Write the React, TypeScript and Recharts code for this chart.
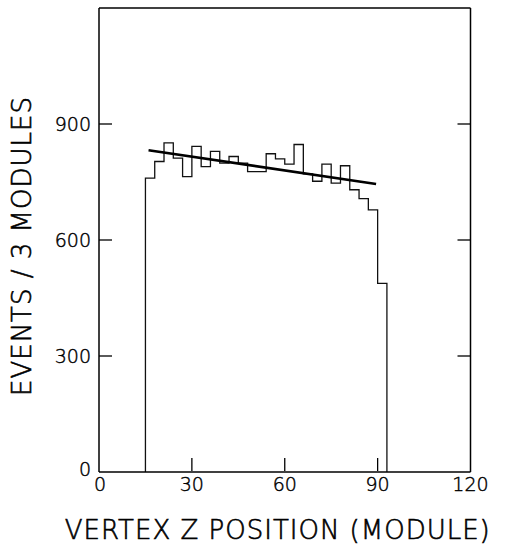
import React from 'react';
import { ComposedChart, Line, XAxis, YAxis, Label, ReferenceLine } from 'recharts';

const binEdges = [15, 18, 21, 24, 27, 30, 33, 36, 39, 42, 45, 48, 51, 54, 57, 60, 63, 66, 69, 72, 75, 78, 81, 84, 87, 90];
const binCounts = [760, 803, 851, 812, 764, 842, 790, 829, 799, 816, 799, 777, 777, 823, 810, 796, 847, 771, 752, 796, 747, 792, 730, 707, 678, 488];
const histEnd = 93;
const fitX = [16, 89.5];
const fitY = [832, 745];
const xTicks = [0, 30, 60, 90, 120];
const yTicks = [0, 300, 600, 900];
const xTitle = 'VERTEX Z POSITION (MODULE)';
const yTitle = 'EVENTS / 3 MODULES';

const histData = [
  { x: binEdges[0], y: 0 },
  ...binEdges.map((e, i) => ({ x: e, y: binCounts[i] })),
  { x: histEnd, y: binCounts[binCounts.length - 1] },
  { x: histEnd, y: 0 },
];
const fitData = fitX.map((x, i) => ({ x, y: fitY[i] }));

const FONT = '"DejaVu Sans", sans-serif';
const WEIGHT = 300;

const XTick = (props: any) => {
  const { x, y, payload } = props;
  const v = payload.value;
  const inner = v !== 0 && v !== 120;
  const ay = y - 1;
  return (
    <g>
      {inner && <line x1={x} x2={x} y1={ay} y2={ay - 13} stroke="#000" strokeWidth={1.3} />}
      <text x={x + (v === 0 ? 1 : 0)} y={ay + 13} textAnchor="middle" dominantBaseline="central" fontFamily={FONT} fontWeight={WEIGHT} fontSize={19} fill="#000" stroke="#000" strokeWidth={0.45}>
        {v}
      </text>
    </g>
  );
};

const YTick = (props: any) => {
  const { x, y, payload } = props;
  const v = payload.value;
  const inner = v !== 0;
  return (
    <g>
      {inner && <line x1={x} x2={x + 13} y1={y} y2={y} stroke="#000" strokeWidth={1.3} />}
      <text x={x - 8} y={v === 0 ? y - 3 : y} textAnchor="end" dominantBaseline="central" fontFamily={FONT} fontWeight={WEIGHT} fontSize={19} fill="#000" stroke="#000" strokeWidth={0.45}>
        {v}
      </text>
    </g>
  );
};

const RTick = (props: any) => {
  const { x, y } = props;
  return <line x1={x} x2={x - 13} y1={y} y2={y} stroke="#000" strokeWidth={1.3} />;
};

const YTitle = (props: any) => {
  const vb = props.viewBox || {};
  const cx = vb.x + vb.width - 77;
  const cy = vb.y + vb.height / 2 + 6;
  return (
    <text
      x={cx}
      y={cy}
      transform={`rotate(-90, ${cx}, ${cy})`}
      textAnchor="middle"
      dominantBaseline="central"
      fontFamily={FONT}
      fontWeight={WEIGHT}
      fontSize={26}
      letterSpacing={1}
      fill="#000"
      stroke="#000"
      strokeWidth={0.6}
    >
      {yTitle}
    </text>
  );
};

const XTitle = (props: any) => {
  const vb = props.viewBox || {};
  const cx = vb.x + vb.width / 2 - 7;
  const cy = vb.y + 58;
  return (
    <text x={cx} y={cy} textAnchor="middle" dominantBaseline="central" fontFamily={FONT} fontWeight={WEIGHT} fontSize={26} letterSpacing={1} fill="#000" stroke="#000" strokeWidth={0.6}>
      {xTitle}
    </text>
  );
};

export default function App() {
  return (
    <div style={{ position: 'absolute', left: 0, top: 0, background: '#fff' }}>
      <ComposedChart width={507} height={552} margin={{ top: 8, left: 98, right: 35.5, bottom: 79 }}>
        <XAxis
          type="number"
          dataKey="x"
          domain={[0, 120]}
          ticks={xTicks}
          allowDataOverflow
          height={1}
          tickSize={0}
          tickMargin={0}
          tickLine={false}
          axisLine={{ stroke: '#000', strokeWidth: 1.5 }}
          tick={<XTick />}
          interval={0}
        >
          <Label content={<XTitle />} />
        </XAxis>
        <YAxis
          type="number"
          domain={[0, 1200]}
          ticks={yTicks}
          allowDataOverflow
          width={1}
          tickSize={0}
          tickMargin={0}
          tickLine={false}
          axisLine={{ stroke: '#000', strokeWidth: 1.5 }}
          tick={<YTick />}
          interval={0}
        >
          <Label content={<YTitle />} />
        </YAxis>
        <YAxis
          yAxisId="r"
          orientation="right"
          type="number"
          domain={[0, 1200]}
          ticks={[300, 600, 900]}
          allowDataOverflow
          width={1}
          tickSize={0}
          tickMargin={0}
          tickLine={false}
          axisLine={{ stroke: '#000', strokeWidth: 1.5 }}
          tick={<RTick />}
          interval={0}
        />
        <ReferenceLine y={1200} stroke="#000" strokeWidth={1.5} ifOverflow="visible" />
        <Line
          data={histData}
          dataKey="y"
          type="stepAfter"
          stroke="#111"
          strokeWidth={1.3}
          dot={false}
          isAnimationActive={false}
        />
        <Line
          data={fitData}
          dataKey="y"
          type="linear"
          stroke="#000"
          strokeWidth={2.6}
          dot={false}
          isAnimationActive={false}
        />
      </ComposedChart>
    </div>
  );
}
